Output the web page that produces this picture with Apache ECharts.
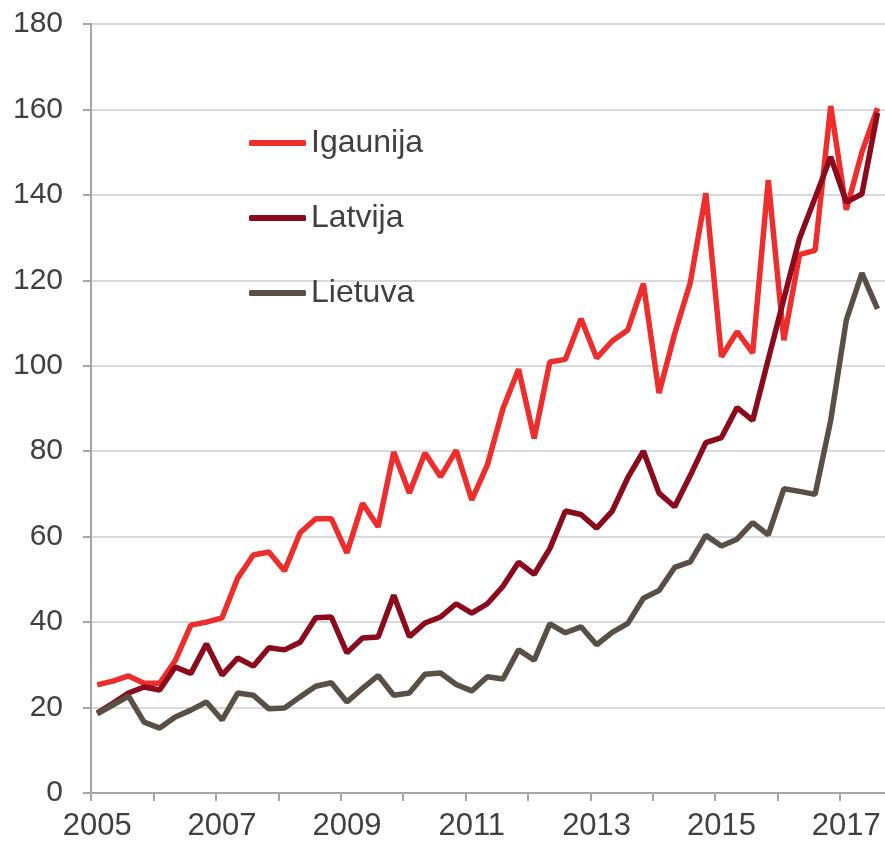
<!DOCTYPE html>
<html>
<head>
<meta charset="utf-8">
<script src="https://cdn.jsdelivr.net/npm/echarts@6/dist/echarts.min.js"></script>
<style>
  html, body { margin: 0; padding: 0; background: #fff; }
  #chart { width: 885px; height: 845px; }
</style>
</head>
<body>
<div id="chart"></div>
<script>
// quarterly values, 2005 Q1 .. 2017 Q3
var startYear = 2005.1;
var igaunija = [25.3, 26.2, 27.4, 25.7, 25.7, 31, 39.3, 40, 41, 50.3, 55.7, 56.4, 52,
    60.9, 64.2, 64.2, 56.2, 67.8, 62.3, 79.8, 70.2, 79.6, 74, 80.2, 68.6, 76.8, 90,
    99.2, 83, 100.9, 101.5, 111, 101.8, 105.8, 108.4, 119.2, 93.6, 107.5, 119.4, 140.4,
    102.1, 108, 103, 143.5, 106, 126, 127, 160.8, 136.5, 150, 160.3];
var latvija = [18.7, 21, 23.4, 24.8, 24.1, 29.5, 28, 34.9, 27.6, 31.6, 29.7, 34, 33.5,
    35.3, 41, 41.2, 32.8, 36.3, 36.5, 46.3, 36.6, 39.8, 41.2, 44.3, 42.1, 44.3, 48.4,
    54, 51.2, 57.2, 66, 65.2, 62, 66, 73.8, 80, 70.2, 67, 74.3, 82, 83.2, 90.2, 87.2,
    101.5, 115.7, 129.8, 139.3, 148.9, 138.3, 140.2, 159.2];
var lietuva = [18.5, 20.6, 22.7, 16.6, 15.2, 17.8, 19.4, 21.3, 17.1, 23.4, 22.9, 19.7,
    19.9, 22.5, 25, 25.8, 21.3, 24.5, 27.5, 22.9, 23.4, 27.8, 28.1, 25.4, 23.9, 27.2,
    26.7, 33.5, 31.1, 39.6, 37.5, 38.9, 34.7, 37.6, 39.7, 45.6, 47.4, 52.8, 54.1, 60.3,
    57.8, 59.4, 63.3, 60.4, 71.2, 70.6, 69.9, 87.2, 110.7, 121.7, 113.3];
var tickYears = [2005, 2006, 2007, 2008, 2009, 2010, 2011, 2012, 2013, 2014, 2015, 2016, 2017];
var labelYears = [2005, 2007, 2009, 2011, 2013, 2015, 2017];

function pairs(vals) {
    return vals.map(function (v, i) { return [startYear + i * 0.25, v]; });
}

var txt = '#404040';
var axisCol = '#a6a6a6';
var chart = echarts.init(document.getElementById('chart'));
chart.setOption({
    animation: false,
    textStyle: { fontFamily: '"Liberation Sans", Arial, sans-serif' },
    grid: { left: 91, top: 24, right: 0, bottom: 52, containLabel: false },
    legend: {
        orient: 'vertical',
        left: 249,
        top: 127,
        padding: 0,
        itemGap: 43,
        icon: 'roundRect',
        itemWidth: 57,
        itemHeight: 6,
        textStyle: { fontSize: 32, color: txt },
        data: ['Igaunija', 'Latvija', 'Lietuva']
    },
    xAxis: {
        type: 'value',
        min: 2005,
        max: 2017.72,
        axisLine: { lineStyle: { color: axisCol, width: 2 } },
        axisTick: { show: true, length: 8, lineStyle: { color: axisCol, width: 2 }, customValues: tickYears },
        // labels sit under the first-quarter point of each year
        axisLabel: { fontSize: 31, color: txt, margin: 18,
            customValues: labelYears.map(function (y) { return y + 0.1; }),
            formatter: function (v) { return String(Math.floor(v)); } },
        splitLine: { show: false }
    },
    yAxis: {
        type: 'value',
        min: 0,
        max: 180,
        interval: 20,
        axisLine: { show: true, lineStyle: { color: axisCol, width: 2 } },
        axisTick: { show: true, length: 8, lineStyle: { color: axisCol, width: 2 } },
        axisLabel: { fontSize: 30, color: txt, margin: 28 },
        splitLine: { lineStyle: { color: '#d9d9d9', width: 2 } }
    },
    series: [
        { name: 'Igaunija', type: 'line', data: pairs(igaunija), showSymbol: false,
          color: '#ee2e2c', lineStyle: { width: 5.5, color: '#ee2e2c' } },
        { name: 'Latvija', type: 'line', data: pairs(latvija), showSymbol: false,
          color: '#8b0a1c', lineStyle: { width: 5.5, color: '#8b0a1c' } },
        { name: 'Lietuva', type: 'line', data: pairs(lietuva), showSymbol: false,
          color: '#584f46', lineStyle: { width: 5.5, color: '#584f46' } }
    ]
});
</script>
</body>
</html>
